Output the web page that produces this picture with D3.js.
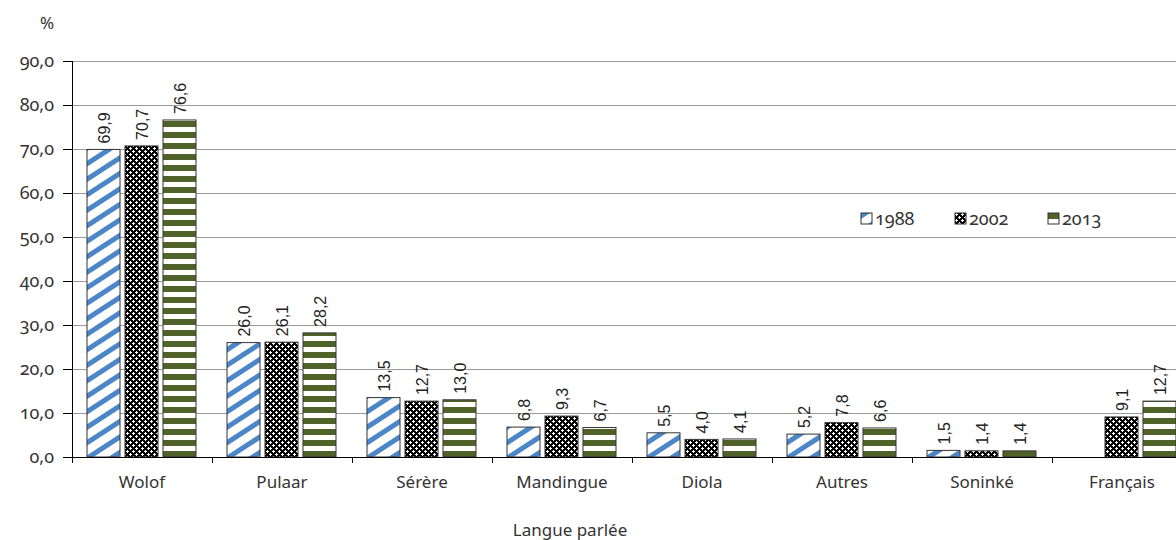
<!DOCTYPE html>
<html><head><meta charset="utf-8">
<script src="https://cdn.jsdelivr.net/npm/d3@7"></script>
<style>
body{margin:0;background:#fff;}
.os{font-family:"Noto Sans",sans-serif;font-feature-settings:"onum" 1;font-variant-numeric:oldstyle-nums;}
</style></head><body>
<svg id="c" width="1176" height="540"></svg>
<script>
const categories = ["Wolof","Pulaar","Sérère","Mandingue","Diola","Autres","Soninké","Français"];
const seriesNames = ["1988","2002","2013"];
const v1988 = [69.9,26.0,13.5,6.8,5.5,5.2,1.5,null];
const v2002 = [70.7,26.1,12.7,9.3,4.0,7.8,1.4,9.1];
const v2013 = [76.6,28.2,13.0,6.7,4.1,6.6,1.4,12.7];
const yTicks = [0,10,20,30,40,50,60,70,80,90];
const values = [v1988,v2002,v2013];

const svg = d3.select("#c");
const fmt = v => v.toFixed(1).replace(".", ",");

const defs = svg.append("defs");
// 1988 diagonal blue stripes
const p1 = defs.append("pattern").attr("id","p1988").attr("patternUnits","userSpaceOnUse")
  .attr("width",13).attr("height",13).attr("patternTransform","rotate(57)");
p1.append("rect").attr("width",13).attr("height",13).attr("fill","#fff");
p1.append("rect").attr("x",0).attr("y",0).attr("width",5).attr("height",13).attr("fill","#4a86c8");
// 2002 black with white crosses
const p2 = defs.append("pattern").attr("id","p2002").attr("patternUnits","userSpaceOnUse")
  .attr("width",6).attr("height",6);
p2.append("rect").attr("width",6).attr("height",6).attr("fill","#000");
p2.append("rect").attr("x",1).attr("y",0).attr("width",1).attr("height",3).attr("fill","#fff");
p2.append("rect").attr("x",0).attr("y",1).attr("width",3).attr("height",1).attr("fill","#fff");
p2.append("rect").attr("x",4).attr("y",3).attr("width",1).attr("height",3).attr("fill","#fff");
p2.append("rect").attr("x",3).attr("y",4).attr("width",3).attr("height",1).attr("fill","#fff");
// 2013 horizontal green stripes
const p3 = defs.append("pattern").attr("id","p2013").attr("patternUnits","userSpaceOnUse")
  .attr("width",11).attr("height",11);
p3.append("rect").attr("width",11).attr("height",11).attr("fill","#fff");
p3.append("rect").attr("x",0).attr("y",0).attr("width",11).attr("height",6).attr("fill","#4f6228");
const fills = ["url(#p1988)","url(#p2002)","url(#p2013)"];

const x0 = d3.scaleBand().domain(categories).range([72,1192]).padding(0);
const x1 = d3.scaleBand().domain(seriesNames).range([15,124]).paddingInner(5/38).paddingOuter(0);
const y = d3.scaleLinear().domain([0,90]).range([457,61]);

// grid
svg.append("g").selectAll("line").data(yTicks.filter(d=>d>0)).join("line")
  .attr("x1",72).attr("x2",1176).attr("y1",d=>y(d)).attr("y2",d=>y(d))
  .attr("stroke","#9a9a9a").attr("stroke-width",1).attr("shape-rendering","crispEdges");

// y axis
const yAxis = d3.axisLeft(y).tickValues(yTicks).tickFormat(fmt).tickSize(9).tickPadding(9);
const gy = svg.append("g").attr("transform","translate(72,0)").call(yAxis);
gy.select(".domain").attr("stroke","#000").attr("shape-rendering","crispEdges");
gy.selectAll(".tick line").attr("stroke","#000").attr("shape-rendering","crispEdges");
gy.selectAll("text").attr("class","os").attr("font-size",18).attr("fill","#333");

// bars
const groups = svg.append("g").selectAll("g").data(categories).join("g")
  .attr("transform",d=>`translate(${x0(d)},0)`);
seriesNames.forEach((s,si)=>{
  groups.each(function(c,ci){
    const v = values[si][ci];
    if(v==null) return;
    const g = d3.select(this);
    g.append("rect").attr("x",x1(s)).attr("y",y(v)).attr("width",x1.bandwidth())
      .attr("height",y(0)-y(v)).attr("fill",fills[si]).attr("stroke","#333").attr("stroke-width",1);
    g.append("text").attr("transform",`translate(${x1(s)+x1.bandwidth()/2+6},${y(v)-6}) rotate(-90)`)
      .attr("font-family","Liberation Sans, Arial, sans-serif").attr("font-size",16).attr("fill","#222")
      .text(fmt(v));
  });
});

// x axis
const xAxis = d3.axisBottom(x0).tickSize(0).tickPadding(19);
const gx = svg.append("g").attr("transform","translate(0,457)").call(xAxis);
gx.select(".domain").remove();
gx.selectAll("text").attr("font-family","Noto Sans, sans-serif").attr("font-size",17).attr("fill","#333");
svg.append("line").attr("x1",72).attr("x2",1176).attr("y1",457).attr("y2",457).attr("stroke","#000").attr("shape-rendering","crispEdges");
svg.append("g").selectAll("line").data(d3.range(0,9)).join("line")
  .attr("x1",i=>72+i*x0.step()).attr("x2",i=>72+i*x0.step()).attr("y1",457).attr("y2",463)
  .attr("stroke","#000").attr("shape-rendering","crispEdges");

// titles
svg.append("text").attr("x",47).attr("y",29).attr("font-family","Noto Sans, sans-serif").attr("font-size",17).attr("fill","#333").attr("text-anchor","middle").text("%");
svg.append("text").attr("x",570).attr("y",536).attr("font-family","Noto Sans, sans-serif").attr("font-size",17).attr("fill","#333").attr("text-anchor","middle").text("Langue parlée");

// legend
const legX = [861,955,1048];
const leg = svg.append("g").selectAll("g").data(seriesNames).join("g")
  .attr("transform",(d,i)=>`translate(${legX[i]},213)`);
leg.append("rect").attr("width",11).attr("height",11).attr("fill",(d,i)=>fills[i]).attr("stroke","#333");
leg.append("text").attr("class","os").attr("x",14).attr("y",12).attr("font-size",18).attr("fill","#333").text(d=>d);
</script>
</body></html>
